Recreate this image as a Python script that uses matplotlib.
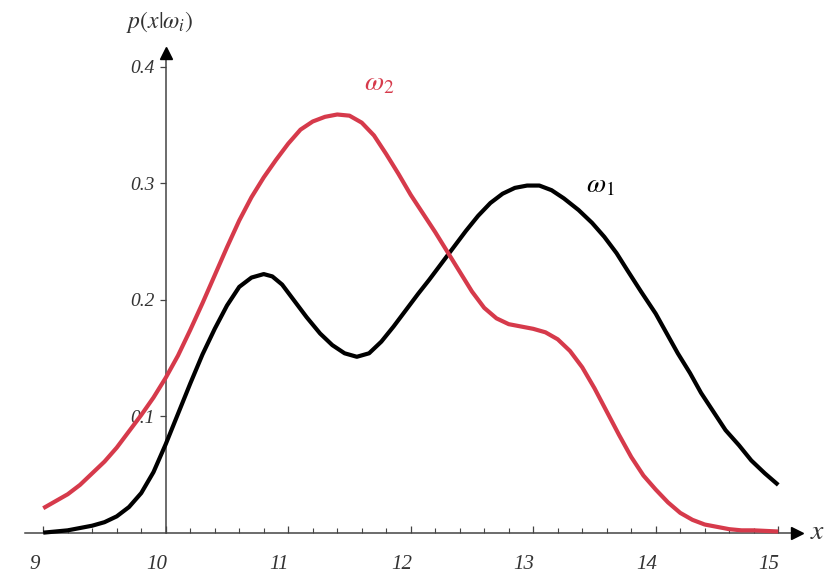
import numpy as np
import matplotlib
matplotlib.use("Agg")
import matplotlib.pyplot as plt
from matplotlib.transforms import ScaledTranslation

plt.rcParams['mathtext.fontset'] = 'stix'
plt.rcParams['font.family'] = ['Liberation Serif', 'DejaVu Serif']

# class-conditional densities p(x|w1), p(x|w2)
x1 = [9.0, 9.1, 9.2, 9.3, 9.4, 9.5, 9.6, 9.7, 9.8, 9.9, 10.0, 10.1, 10.2, 10.3, 10.4,
      10.5, 10.6, 10.7, 10.8, 10.87, 10.95, 11.05, 11.15, 11.26, 11.36, 11.46, 11.56,
      11.66, 11.76, 11.86, 11.96, 12.06, 12.15, 12.25, 12.35, 12.45, 12.55, 12.65, 12.75,
      12.85, 12.95, 13.05, 13.15, 13.25, 13.37, 13.48, 13.58, 13.68, 13.77, 13.88, 14.0,
      14.09, 14.18, 14.28, 14.37, 14.47, 14.57, 14.68, 14.78, 14.89, 15.0]
p1 = [0.000, 0.001, 0.002, 0.004, 0.006, 0.009, 0.014, 0.022, 0.034, 0.052, 0.076, 0.102,
      0.128, 0.153, 0.175, 0.195, 0.211, 0.219, 0.222, 0.220, 0.213, 0.199, 0.185, 0.171,
      0.161, 0.154, 0.151, 0.154, 0.164, 0.177, 0.191, 0.205, 0.217, 0.231, 0.245, 0.259,
      0.272, 0.283, 0.291, 0.296, 0.298, 0.298, 0.294, 0.287, 0.277, 0.266, 0.254, 0.240,
      0.225, 0.207, 0.188, 0.171, 0.154, 0.137, 0.120, 0.104, 0.088, 0.075, 0.062, 0.051,
      0.041]

x2 = [9.0, 9.1, 9.2, 9.3, 9.4, 9.5, 9.6, 9.7, 9.8, 9.9, 10.0, 10.1, 10.2, 10.3, 10.4,
      10.5, 10.6, 10.7, 10.8, 10.9, 11.0, 11.1, 11.2, 11.3, 11.4, 11.5, 11.6, 11.7, 11.8,
      11.9, 12.0, 12.1, 12.2, 12.3, 12.4, 12.5, 12.6, 12.7, 12.8, 12.9, 13.0, 13.1, 13.2,
      13.3, 13.4, 13.5, 13.6, 13.7, 13.8, 13.9, 14.0, 14.1, 14.2, 14.3, 14.4, 14.5, 14.6,
      14.7, 14.8, 15.0]
p2 = [0.021, 0.027, 0.033, 0.041, 0.051, 0.061, 0.073, 0.087, 0.101, 0.116, 0.133, 0.152,
      0.174, 0.197, 0.221, 0.245, 0.268, 0.288, 0.305, 0.320, 0.334, 0.346, 0.353, 0.357,
      0.359, 0.358, 0.352, 0.341, 0.325, 0.308, 0.290, 0.274, 0.258, 0.241, 0.224, 0.207,
      0.193, 0.184, 0.179, 0.177, 0.175, 0.172, 0.166, 0.156, 0.142, 0.124, 0.104, 0.084,
      0.065, 0.049, 0.037, 0.026, 0.017, 0.011, 0.007, 0.005, 0.003, 0.002, 0.002, 0.001]

xticks = [9, 10, 11, 12, 13, 14, 15]
yticks = [0.1, 0.2, 0.3, 0.4]

red = '#d63a4b'
axis_col = '#444444'
text_col = '#333333'

fig = plt.figure(figsize=(8.32, 5.76), dpi=100)
ax = fig.add_axes([0, 0, 1, 1])
ax.set_xlim(8.647, 15.439)
ax.set_ylim(-0.0372, 0.4573)

ax.plot(x1, p1, color='black', lw=3.0, solid_capstyle='butt', solid_joinstyle='round', zorder=3)
ax.plot(x2, p2, color=red, lw=3.0, solid_capstyle='butt', solid_joinstyle='round', zorder=3)

# axes crossing at (10, 0)
for s in ['top', 'right']:
    ax.spines[s].set_visible(False)
ax.spines['left'].set_position(('data', 10))
ax.spines['bottom'].set_position(('data', 0))
ax.spines['left'].set_bounds(0, 0.41)
ax.spines['bottom'].set_bounds(8.85, 15.12)
for s in ['left', 'bottom']:
    ax.spines[s].set_color(axis_col)
    ax.spines[s].set_linewidth(1.1)
    ax.spines[s].set_zorder(2)

# arrow heads
ax.plot([15.15], [0], marker='>', ms=9, color='black', clip_on=False, zorder=4)
ax.plot([10], [0.412], marker='^', ms=8, color='black', clip_on=False, zorder=4)

ax.set_xticks(xticks)
ax.set_xticks(np.arange(9, 15.01, 0.2), minor=True)
ax.set_yticks(yticks)
ax.set_xticklabels([str(t) for t in xticks])
ax.set_yticklabels([str(t) for t in yticks])
ax.tick_params(axis='x', which='major', direction='in', length=5, width=0.9,
               color=axis_col, pad=16, labelsize=15, labelcolor=text_col)
ax.tick_params(axis='x', which='minor', direction='in', length=3.5, width=0.8,
               color=axis_col)
ax.tick_params(axis='y', which='major', direction='out', length=4, width=0.9,
               color=axis_col, pad=4, labelsize=14, labelcolor=text_col)
for lab in ax.get_xticklabels() + ax.get_yticklabels():
    lab.set_fontstyle('italic')
shift = ScaledTranslation(-9 / 100, 0, fig.dpi_scale_trans)
for lab in ax.get_xticklabels():
    lab.set_transform(lab.get_transform() + shift)

ax.text(15.32, 0.0, '$x$', fontsize=20, color=text_col, ha='center', va='center')
ax.text(9.95, 0.438, r'$p(x|\omega_i)$', fontsize=17, color=text_col, ha='center', va='center')
ax.text(11.74, 0.385, r'$\omega_2$', fontsize=20, color=red, ha='center', va='center')
ax.text(13.55, 0.298, r'$\omega_1$', fontsize=20, color='black', ha='center', va='center')

fig.savefig('out.png', dpi=100)
